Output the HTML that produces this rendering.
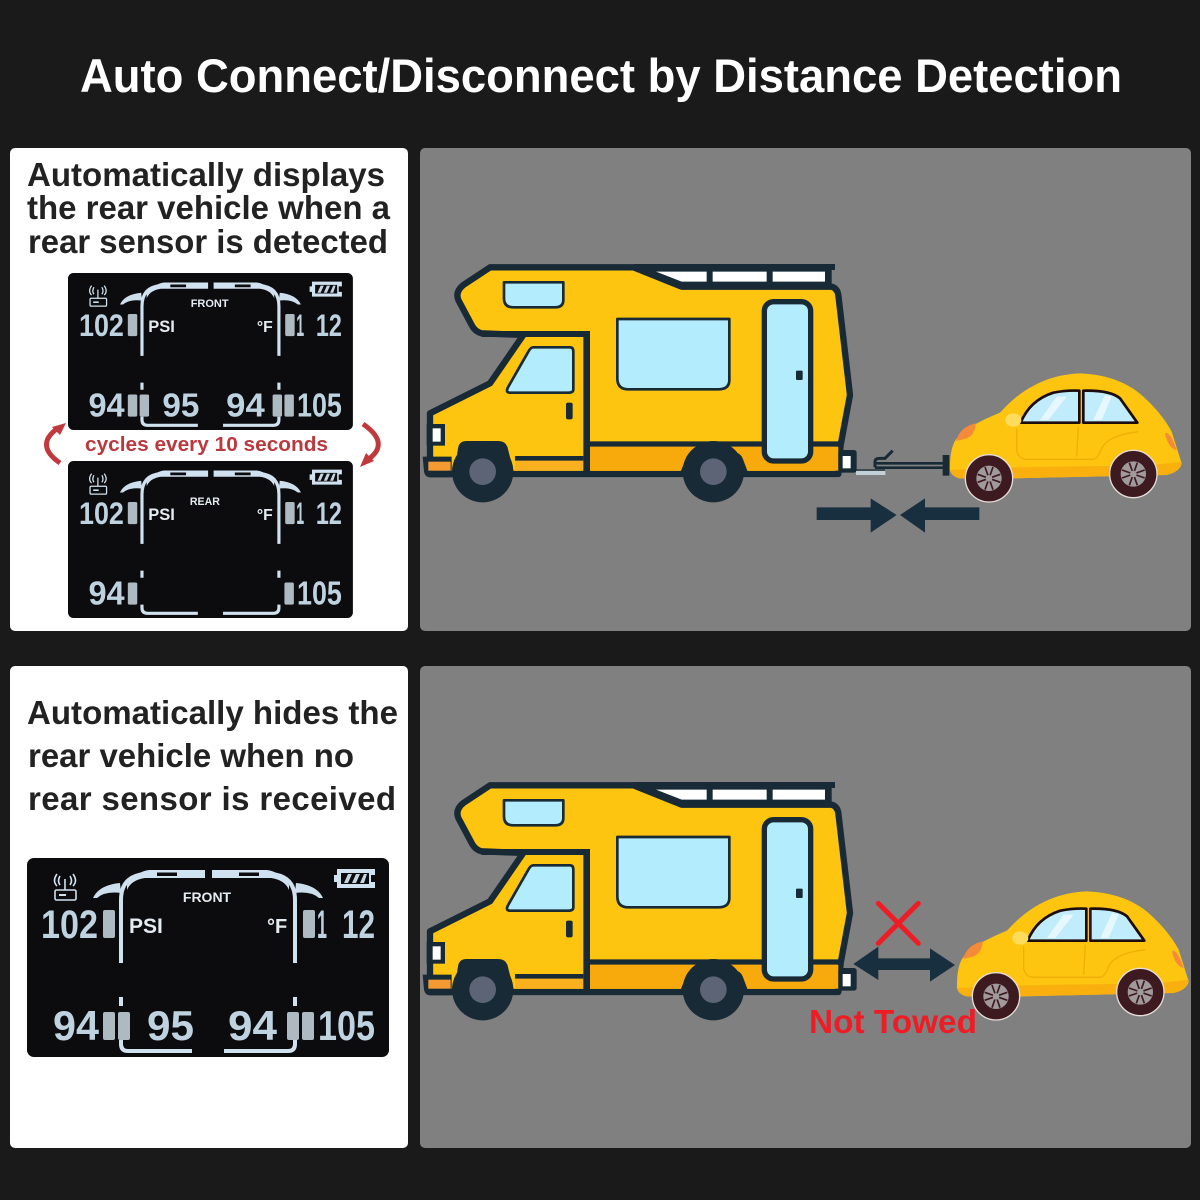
<!DOCTYPE html>
<html><head><meta charset="utf-8"><style>
html,body{margin:0;padding:0;background:#1a1a1a}
svg{display:block}
text{font-family:"Liberation Sans",sans-serif}
</style></head><body>
<svg width="1200" height="1200" viewBox="0 0 1200 1200" xmlns="http://www.w3.org/2000/svg">
<defs>
<g id="lcdBase">
<rect width="362" height="199" rx="7" fill="#0c0c0e"/>
<g fill="none" stroke="#d0e2f0" stroke-width="4" stroke-linecap="butt">
<path d="M94 105V42Q94 18 118 16H150" />
<path d="M268 105V42Q268 18 244 16H212" />
<path d="M94 139V148M268 139V148"/>
<path d="M94 182V186Q94 193 101 193H165M268 182V186Q268 193 261 193H197" />
</g>
<path d="M100 27Q108 14 122 12H178V20H118Q104 22 100 32Z" fill="#d0e2f0"/>
<path d="M262 27Q254 14 240 12H185V20H244Q258 22 262 32Z" fill="#d0e2f0"/>
<path d="M130 14.5H150V18H130ZM212 14.5H232V18H212Z" fill="#0c0c0e"/>
<path d="M66 40Q72 27 93 25L94 35Q78 33 70 40Z" fill="#cddfec"/>
<path d="M296 40Q290 27 269 25L268 35Q284 33 292 40Z" fill="#cddfec"/>
<g fill="none" stroke="#d0e2f0" stroke-width="1.6">
<rect x="28" y="32" width="21" height="10" rx="1.5"/>
<path d="M38 32V21M33 27Q30 23 33 18M43 27Q46 23 43 18M30 28Q25 23 30 16M46 28Q51 23 46 16"/>
</g>
<rect x="32" y="36" width="7" height="2" fill="#d0e2f0"/>
<path d="M310 11H348V17H344V24H348V30H310V24H307V17H310ZM314 15V26H342V15Z" fill="#d0e2f0"/>
<path d="M317 25L321 16H325L321 25ZM325 25L329 16H333L329 25ZM333 25L337 16H340L337 25Z" fill="#c4d6e4"/>
<text x="102" y="75" font-size="21" font-weight="bold" fill="#e4ecf2">PSI</text>
<text x="240" y="75" font-size="20" font-weight="bold" fill="#e4ecf2">°F</text>
<g font-weight="bold" font-size="40" fill="#bfd2e0">
<text x="14" y="80" textLength="57" lengthAdjust="spacingAndGlyphs">102</text>
<text x="290" y="80" textLength="10" lengthAdjust="spacingAndGlyphs">1</text>
<text x="315" y="80" textLength="33" lengthAdjust="spacingAndGlyphs">12</text>
</g>
<g fill="#aebac2"><rect x="76" y="52" width="12" height="28" rx="2"/><rect x="276" y="52" width="12" height="28" rx="2"/></g>
</g>
<g id="rearLow" font-weight="bold" font-size="42" fill="#bfd2e0">
<text x="26" y="182" textLength="46" lengthAdjust="spacingAndGlyphs">94</text>
<rect x="76" y="154" width="12" height="28" rx="2" fill="#aebac2"/>
<rect x="275" y="154" width="12" height="28" rx="2" fill="#aebac2"/>
<text x="291" y="182" textLength="57" lengthAdjust="spacingAndGlyphs">105</text>
</g>
<g id="midLow" font-weight="bold" font-size="42" fill="#bfd2e0">
<rect x="91" y="154" width="12" height="28" rx="2" fill="#aebac2"/>
<rect x="260" y="154" width="12" height="28" rx="2" fill="#aebac2"/>
<text x="120" y="182" textLength="47" lengthAdjust="spacingAndGlyphs">95</text>
<text x="201" y="182" textLength="49" lengthAdjust="spacingAndGlyphs">94</text>
</g>
<g id="camper" stroke-linejoin="round">
<path d="M640 42H1245V60H1235V108H785Z" fill="#172a36"/>
<path d="M708 65H860V95H785Z M878 65H1040V95H878Z M1058 65H1215V95H1058Z" fill="#fff"/>
<path d="M210 52L640 52L785 110L1235 110Q1252 115 1255 135L1290 435L1262 585L1255 672L30 672L30 490L210 400L310 255L185 250Q165 245 155 225L115 150Q105 125 130 105Z" fill="#fdc50f" stroke="#172a36" stroke-width="19"/>
<rect x="505" y="590" width="750" height="72" fill="#f8a90c"/>
<rect x="285" y="632" width="205" height="30" fill="#fbb020"/>
<path d="M505 582H1260" stroke="#172a36" stroke-width="16"/>
<path d="M500 245V665" stroke="#172a36" stroke-width="20"/>
<path d="M185 252H510" stroke="#172a36" stroke-width="18"/>
<path d="M285 625H490" stroke="#172a36" stroke-width="14"/>
<g fill="#b3ecfd" stroke="#172a36" stroke-width="8">
<path d="M252 97H430V150Q430 172 405 172H280Q252 172 252 145Z"/>
<path d="M592 207H928V390Q928 418 895 418H625Q592 418 592 385Z"/>
<path d="M340 292H450Q460 292 460 305V418Q460 428 445 428H270Q255 428 265 410L325 305Q332 292 340 292Z"/>
<rect x="1033" y="155" width="139" height="478" rx="28" stroke-width="16"/>
</g>
<rect x="1128" y="362" width="20" height="28" rx="3" fill="#172a36"/>
<rect x="438" y="458" width="20" height="50" rx="6" fill="#172a36"/>
<path d="M8 620H95V682H30Q15 682 12 665Z" fill="#172a36"/>
<rect x="25" y="635" width="67" height="27" fill="#f59a32"/>
<rect x="20" y="522" width="55" height="65" fill="#172a36"/>
<rect x="38" y="535" width="24" height="40" fill="#fff"/>
<rect x="1255" y="600" width="55" height="68" rx="8" fill="#172a36"/>
<rect x="1268" y="618" width="24" height="37" fill="#fff"/>
<path d="M100 680L115 590Q120 573 140 573H235Q255 573 262 590L285 680Z" fill="#172a36"/>
<circle cx="188" cy="665" r="92" fill="#172a36"/><circle cx="188" cy="665" r="40" fill="#5d6475"/>
<path d="M780 670L800 620Q805 608 825 608H945Q960 608 968 625L985 670Z" fill="#172a36"/>
<circle cx="880" cy="665" r="92" fill="#172a36"/><circle cx="880" cy="665" r="40" fill="#5d6475"/>
</g>
<g id="wheel">
<circle r="71" fill="#3d1a20" stroke="#e6dcd8" stroke-width="4"/>
<circle r="38" fill="#a09a9c"/>
<g stroke="#3d1a20" stroke-width="5"><path d="M-34 -12L34 12M-34 12L34 -12M-12 -34L12 34M12 -34L-12 34"/></g>
<circle r="10" fill="#a09a9c"/>
</g>
<g id="car">
<path d="M450 330Q448 250 480 225Q510 195 600 158Q700 45 840 40Q960 45 1030 110Q1085 160 1115 215L1145 310Q1140 335 1100 345L640 355L480 355Q455 350 450 330Z" fill="#fdc50f"/>
<path d="M450 330L640 322L900 318Q1050 320 1145 305Q1140 335 1100 345L640 355L480 355Q455 350 450 330Z" fill="#f9b00e"/>
<path d="M662 188Q690 120 760 98Q800 90 838 92V188Z" fill="#c0ecfb" stroke="#1c0c0e" stroke-width="8" stroke-linejoin="round"/>
<path d="M850 92Q930 90 960 115L1012 188H850Z" fill="#c0ecfb" stroke="#1c0c0e" stroke-width="8" stroke-linejoin="round"/>
<path d="M720 180L770 110L800 110L745 180ZM880 180L915 105L935 110L905 180Z" fill="#e6f8fe"/>
<path d="M468 243Q480 200 527 190Q525 225 500 235Z" fill="#f48a3a"/>
<path d="M1095 220Q1110 212 1130 270Q1105 265 1095 220Z" fill="#f48a3a"/>
<ellipse cx="640" cy="180" rx="24" ry="20" fill="#fddc5c"/>
<path d="M650 205V270Q655 298 680 298H880Q895 295 905 265Q925 225 1015 215M835 200L830 290" fill="none" stroke="#eeb008" stroke-width="4"/>
<use href="#wheel" x="567" y="355"/>
<use href="#wheel" x="1000" y="342"/>
</g>
</defs>

<rect width="1200" height="1200" fill="#1a1a1a"/>
<text x="80" y="92" font-size="47" font-weight="bold" fill="#fff" textLength="1042" lengthAdjust="spacingAndGlyphs">Auto Connect/Disconnect by Distance Detection</text>

<rect x="10" y="148" width="398" height="483" rx="5" fill="#fff"/>
<rect x="420" y="148" width="771" height="483" rx="5" fill="#808080"/>
<rect x="10" y="666" width="398" height="482" rx="5" fill="#fff"/>
<rect x="420" y="666" width="771" height="482" rx="5" fill="#808080"/>

<g font-size="33" font-weight="bold" fill="#222" >
<text x="27" y="186" textLength="358" lengthAdjust="spacingAndGlyphs">Automatically displays</text>
<text x="27" y="219" textLength="363" lengthAdjust="spacingAndGlyphs">the rear vehicle when a</text>
<text x="28" y="253" textLength="360" lengthAdjust="spacingAndGlyphs">rear sensor is detected</text>
<text x="27" y="724" textLength="371" lengthAdjust="spacingAndGlyphs">Automatically hides the</text>
<text x="28" y="767" textLength="326" lengthAdjust="spacingAndGlyphs">rear vehicle when no</text>
<text x="28" y="810" textLength="368" lengthAdjust="spacing">rear  sensor is received</text>
</g>

<g transform="translate(68 273) scale(.787 .789)"><use href="#lcdBase"/><use href="#rearLow"/><use href="#midLow"/>
<text x="180" y="43" font-size="14" font-weight="bold" fill="#e4ecf2" text-anchor="middle">FRONT</text></g>

<text x="85" y="451" font-size="20" font-weight="bold" fill="#b93a3e" textLength="243" lengthAdjust="spacingAndGlyphs">cycles every 10 seconds</text>
<g fill="none" stroke="#c0393c" stroke-width="5">
<path d="M60 463Q34 445 58 428"/><path d="M363 424Q392 444 366 461"/>
</g>
<path d="M66 423L52 427L60 435ZM360 467L374 461L366 453Z" fill="#c0393c"/>

<g transform="translate(68 461) scale(.787 .789)"><use href="#lcdBase"/><use href="#rearLow"/>
<text x="174" y="56" font-size="13.5" font-weight="bold" fill="#e4ecf2" text-anchor="middle">REAR</text></g>

<g transform="translate(27 858)"><use href="#lcdBase"/><use href="#rearLow"/><use href="#midLow"/>
<text x="180" y="44" font-size="14" font-weight="bold" fill="#e4ecf2" text-anchor="middle">FRONT</text></g>

<g transform="translate(420 250) scale(.33333)"><use href="#camper"/></g>
<g transform="translate(420 768) scale(.33333)"><use href="#camper"/></g>

<g transform="translate(800 360) scale(.33333)">
<rect x="168" y="333" width="88" height="12" fill="#c4d0d8"/>
<path d="M160 330H255" stroke="#172a36" stroke-width="4"/>
<path d="M225 322V305Q225 295 240 295H255L278 272" fill="none" stroke="#172a36" stroke-width="9"/>
<path d="M225 310H430M225 323H430" stroke="#172a36" stroke-width="8"/>
<rect x="428" y="285" width="20" height="62" fill="#172a36"/>
<path d="M50 442H212V415L290 465L212 518V480H50Z" fill="#182f40"/>
<path d="M300 465L375 415V442H538V480H375V518Z" fill="#182f40"/>
<use href="#car"/>
</g>

<g transform="translate(807 878) scale(.33333)"><use href="#car"/></g>

<g transform="translate(800 880) scale(.33333)">
<path d="M160 252L235 200V235H390V205L465 255L390 305V270H235V300Z" fill="#182f40"/>
<path d="M235 70L355 190M355 70L235 190" stroke="#ee1c25" stroke-width="15" stroke-linecap="round"/>
</g>
<text x="809" y="1033" font-size="33" font-weight="bold" fill="#ee1c25" textLength="168" lengthAdjust="spacingAndGlyphs">Not Towed</text>
</svg>
</body></html>
